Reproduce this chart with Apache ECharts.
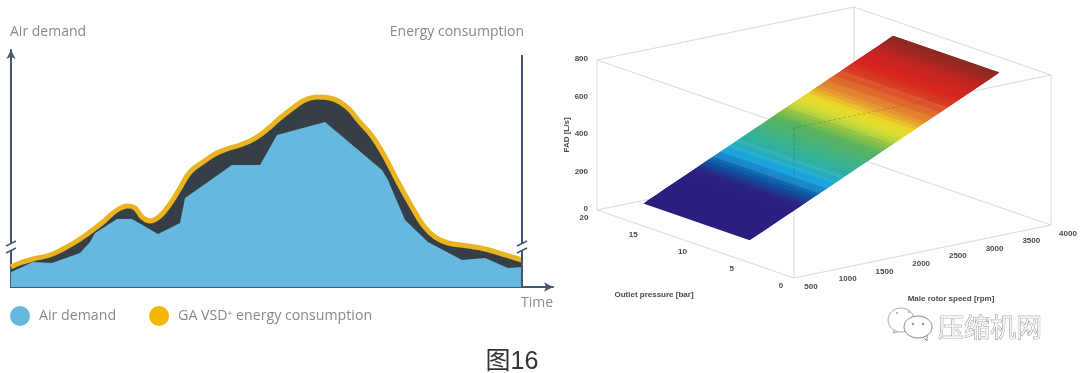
<!DOCTYPE html>
<html><head><meta charset="utf-8">
<style>html,body{margin:0;padding:0;background:#fff}#c{width:1080px;height:373px;filter:blur(0.7px)}</style>
<script src="https://cdn.jsdelivr.net/npm/echarts@6/dist/echarts.min.js"></script></head>
<body><div id="c"></div>
<script>
// ---- left chart data (time units, demand units)
const energyTime  = [0,9,22,39,52,66,79,92,106,117,124,131,139,149,159,169,179,192,204,216,229,239,249,259,269,282,292,306,319,329,339,347,361,374,387,401,412,424,437,457,474,491,511];
const energyValue = [20,24,28,32,38,46,55,65,77,81,79,70,66,71,83,99,115,125,133,138,142,146,152,160,169,179,186,190,189,185,177,167,151,130,105,80,62,50,44,41,38,33,27];
const demandTime  = [0,22,41,69,79,84,106,121,147,169,174,221,249,266,314,339,371,377,394,417,451,474,497,511];
const demandValue = [15,25,24,34,45,54,68,68,53,64,89,122,122,152,165,144,117,107,67,45,27,29,19,20];
const breakPoints = [[0,40],[511,40]];
// ---- right chart data
const rpmRows = [500,550,600,650,700,750,800,850,900,950,1000,1050,1100,1150,1200,1250,1300,1350,1400,1450,1500,1550,1600,1650,1700,1750,1800,1850,1900,1950,2000,2050,2100,2150,2200,2250,2300,2350,2400,2450,2500,2550,2600,2650,2700,2750,2800,2850,2900,2950,3000,3050,3100,3150,3200,3250,3300,3350,3400,3450,3500,3550,3600,3650,3700,3750,3800,3850,3900];
const fadRows = [120,129,138,147,156,165,175,184,193,202,211,220,229,238,247,256,266,275,284,293,302,311,320,329,338,347,357,366,375,384,393,402,411,420,429,438,448,457,466,475,484,493,502,511,520,529,539,548,557,566,575,584,593,602,611,620,630,639,648,657,666,675,684,693,702,711,721,730,740];
const pressureRange = [4.5,15.3];
const fadTicks = [0,200,400,600,800];
const pressureTicks = [20,15,10,5,0];
const rpmTicks = [500,1000,1500,2000,2500,3000,3500,4000];
const colorStops = [[0,'#2b1f7e'],[0.2,'#2b2184'],[0.25,'#0f56a0'],[0.32,'#12a0dc'],[0.385,'#2bb0a6'],[0.52,'#59b35c'],[0.61,'#d2d82a'],[0.65,'#e8d820'],[0.705,'#e08a28'],[0.785,'#d84a22'],[0.85,'#d8261f'],[0.92,'#c52420'],[1,'#8a2a22']];

// projection of the 3D axes onto the hidden 2D axes
const O=[794,278], eR=[257,-53], eP=[-197,-68], eZ=[0,-150];
function proj(rpm,p,z){const a=(rpm-500)/3500,b=p/20,c=z/800;
  return [O[0]+a*eR[0]+b*eP[0]+c*eZ[0], O[1]+a*eR[1]+b*eP[1]+c*eZ[1]];}
function colorAt(t){for(let i=1;i<colorStops.length;i++){if(t<=colorStops[i][0]){const a=colorStops[i-1],b=colorStops[i];
  return echarts.color.lerp((t-a[0])/(b[0]-a[0]),[a[1],b[1]]);}}return colorStops[colorStops.length-1][1];}

const LINE='#44596f', GREY='#858a90', BOXC='#d9d9d9', TXT='#4a4a4a';
const zip=(a,b)=>a.map((v,i)=>[v,b[i]]);

const backEdges=[[[500,20,0],[4000,20,0]],[[4000,20,0],[4000,0,0]],[[500,20,0],[500,20,800]],[[4000,20,0],[4000,20,800]],[[500,20,800],[4000,20,800]],[[4000,20,800],[4000,0,800]],[[500,20,800],[500,0,800]],[[4000,0,0],[4000,0,800]]];
const frontEdges=[[[500,0,0],[500,20,0]],[[500,0,0],[4000,0,0]],[[500,0,0],[500,0,800]],[[500,0,800],[4000,0,800]]];
const overEdges=[[[500,0,800],[2900,0,800]],[[500,0,800],[500,0,365]]];

function edgeSeries(edges,color,dash){return {type:'custom',coordinateSystem:'cartesian2d',xAxisIndex:1,yAxisIndex:1,silent:true,clip:false,
  data:edges.map((e,i)=>[i]),
  renderItem:(p,api)=>{const e=edges[api.value(0)];const s=api.coord(proj(...e[0])),t=api.coord(proj(...e[1]));
    return {type:'line',shape:{x1:s[0],y1:s[1],x2:t[0],y2:t[1]},style:{stroke:color,lineWidth:1,lineDash:dash||null}};}};}

function labelSeries(ticks,toPt,dx,dy,align){return {type:'custom',coordinateSystem:'cartesian2d',xAxisIndex:1,yAxisIndex:1,silent:true,clip:false,
  data:ticks.map(v=>[v]),
  renderItem:(p,api)=>{const v=api.value(0),c=api.coord(toPt(v));
    return {type:'text',style:{x:c[0]+dx,y:c[1]+dy,text:String(v),align:align,verticalAlign:'middle',fill:TXT,font:'bold 8px "Liberation Sans"'}};}};}

const chart=echarts.init(document.getElementById('c'),null,{renderer:'canvas'});
chart.setOption({
  animation:false,backgroundColor:'#fff',
  legend:{left:5,top:301,itemWidth:20,itemHeight:20,itemGap:33,icon:'circle',selectedMode:false,data:['Air demand','GA VSD⁺ energy consumption'],
    textStyle:{color:GREY,fontFamily:'Open Sans',fontSize:14.2,padding:[0,0,0,4]}},
  grid:[{left:11,top:50,width:542,height:237},{left:0,top:0,width:1080,height:373}],
  xAxis:[{type:'value',min:0,max:542,gridIndex:0,axisLabel:{show:false},axisTick:{show:false},splitLine:{show:false},
      axisLine:{show:true,symbol:['none','arrow'],symbolSize:[7,9],lineStyle:{color:LINE,width:2}}},
    {type:'value',min:0,max:1080,gridIndex:1,show:false}],
  yAxis:[{type:'value',min:0,max:237,gridIndex:0,axisLabel:{show:false},axisTick:{show:false},splitLine:{show:false},
      axisLine:{show:true,symbol:['none','arrow'],symbolSize:[7,9],lineStyle:{color:LINE,width:2}}},
    {type:'value',min:0,max:373,inverse:true,gridIndex:1,show:false}],
  series:[
    {name:'energy-fill',type:'line',data:zip(energyTime,energyValue),smooth:0.4,symbol:'none',lineStyle:{width:0},areaStyle:{color:'#363f45',opacity:1},z:2},
    {name:'Air demand',type:'line',data:zip(demandTime,demandValue),symbol:'none',lineStyle:{width:0},itemStyle:{color:'#66b8de'},areaStyle:{color:'#66b8de',opacity:1},z:3,
      markLine:{silent:true,symbol:'none',label:{show:false},lineStyle:{color:LINE,width:2,type:'solid'},data:[[{coord:[511,0]},{coord:[511,232]}]]}},
    {name:'GA VSD⁺ energy consumption',type:'line',data:zip(energyTime,energyValue),smooth:0.4,symbol:'none',lineStyle:{color:'#eab421',width:5,cap:'butt'},itemStyle:{color:'#f2b705'},z:4},
    {type:'custom',coordinateSystem:'cartesian2d',xAxisIndex:0,yAxisIndex:0,silent:true,clip:false,z:6,data:breakPoints,
      renderItem:(p,api)=>{const c=api.coord([api.value(0),api.value(1)]);
        const ln=d=>({type:'line',shape:{x1:c[0]-5,y1:c[1]+d+2.5,x2:c[0]+5,y2:c[1]+d-2.5},style:{stroke:LINE,lineWidth:1.4}});
        return {type:'group',children:[
          {type:'polygon',shape:{points:[[c[0]-5,c[1]-1],[c[0]+5,c[1]-6],[c[0]+5,c[1]+1],[c[0]-5,c[1]+6]]},style:{fill:'#fff'}},ln(-3.5),ln(3.5)]};}},
    // 3D panel
    edgeSeries(backEdges,BOXC),edgeSeries(frontEdges,BOXC),
    {type:'custom',coordinateSystem:'cartesian2d',xAxisIndex:1,yAxisIndex:1,silent:true,clip:false,z:4,
      data:rpmRows.slice(0,-1).map((r,i)=>{const j=Math.min(i+2,rpmRows.length-1);return [r,fadRows[i],rpmRows[j],fadRows[j],i];}),
      renderItem:(p,api)=>{const r0=api.value(0),f0=api.value(1),r1=api.value(2),f1=api.value(3),i=api.value(4);
        const pts=[proj(r0,pressureRange[0],f0),proj(r0,pressureRange[1],f0),proj(r1,pressureRange[1],f1),proj(r1,pressureRange[0],f1)].map(q=>api.coord(q));
        const t=i/(rpmRows.length-2);
        let col=colorAt(t);
        const stripe=(t>0.27&&t<0.38)||(t>0.58&&t<0.8);
        if(stripe) col=echarts.color.lift(col,i%2?0.08:-0.03);
        return {type:'polygon',shape:{points:pts},style:{fill:col}};}},
    Object.assign(edgeSeries(overEdges,'rgba(70,70,70,0.28)',[3,2]),{z:5}),
    labelSeries(fadTicks,v=>proj(500,20,v),-9,-1,'right'),
    labelSeries(pressureTicks,v=>proj(500,v,0),-13,7.5,'center'),
    labelSeries(rpmTicks,v=>proj(v,0,0),17,8.5,'center')
  ],
  graphic:[
    {type:'text',silent:true,style:{x:10,y:32,text:'Air demand',verticalAlign:'middle',fill:GREY,font:'14px "Open Sans"'}},
    {type:'text',silent:true,style:{x:524,y:32,text:'Energy consumption',align:'right',verticalAlign:'middle',fill:GREY,font:'14px "Open Sans"'}},
    {type:'text',silent:true,style:{x:521,y:303,text:'Time',verticalAlign:'middle',fill:GREY,font:'14px "Open Sans"'}},
    {type:'text',silent:true,rotation:Math.PI/2,x:567,y:135,style:{text:'FAD [L/s]',align:'center',verticalAlign:'middle',fill:TXT,font:'bold 8px "Liberation Sans"'}},
    {type:'text',silent:true,style:{x:654,y:295,text:'Outlet pressure [bar]',align:'center',verticalAlign:'middle',fill:TXT,font:'bold 8px "Liberation Sans"'}},
    {type:'text',silent:true,style:{x:951,y:299,text:'Male rotor speed [rpm]',align:'center',verticalAlign:'middle',fill:TXT,font:'bold 8px "Liberation Sans"'}},
    {type:'polygon',silent:true,shape:{points:[[895,329],[893,333],[901,331]]},style:{fill:'#fff',stroke:'#aaa',lineWidth:1}},
    {type:'ellipse',silent:true,shape:{cx:901,cy:320,rx:13,ry:12},style:{fill:'#fff',stroke:'#aaa',lineWidth:1}},
    {type:'polygon',silent:true,shape:{points:[[922,336],[927,341],[927,334]]},style:{fill:'#fff',stroke:'#888',lineWidth:1}},
    {type:'ellipse',silent:true,shape:{cx:918,cy:327,rx:14,ry:11},style:{fill:'#fff',stroke:'#888',lineWidth:1}},
    {type:'circle',silent:true,shape:{cx:897,cy:313,r:1.2},style:{fill:'#bbb'}},
    {type:'circle',silent:true,shape:{cx:909,cy:312,r:1.2},style:{fill:'#bbb'}},
    {type:'circle',silent:true,shape:{cx:913,cy:324,r:1.2},style:{fill:'#999'}},
    {type:'circle',silent:true,shape:{cx:923,cy:324,r:1.2},style:{fill:'#999'}},
    {type:'text',silent:true,style:{x:938,y:327,text:'压缩机网',verticalAlign:'middle',fill:'#f4f4f4',stroke:'#777',lineWidth:0.7,font:'26px "Noto Sans CJK SC"'}},
    {type:'text',silent:true,style:{x:512,y:362,text:'图16',align:'center',verticalAlign:'middle',fill:'#333',font:'25px "Liberation Sans","Noto Sans CJK SC"'}}
  ]
});
</script></body></html>
